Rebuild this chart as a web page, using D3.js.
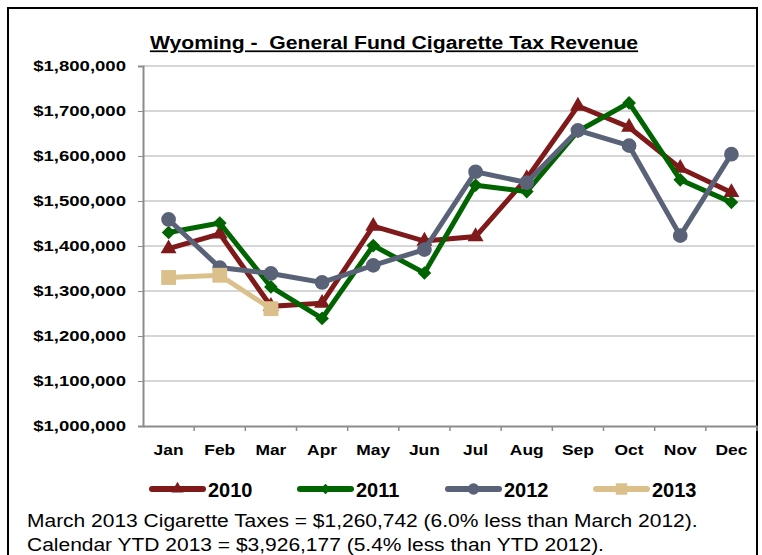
<!DOCTYPE html>
<html>
<head>
<meta charset="utf-8">
<script src="https://cdn.jsdelivr.net/npm/d3@7"></script>
<style>
  body { margin: 0; background: #fff; }
  text { font-family: "Liberation Sans", Arial, sans-serif; }
</style>
</head>
<body>
<div id="chart"></div>
<script>
// data
const months = ["Jan", "Feb", "Mar", "Apr", "May", "Jun", "Jul", "Aug", "Sep", "Oct", "Nov", "Dec"];
const years = ["2010", "2011", "2012", "2013"];
const rev2010 = [1394000, 1427000, 1266000, 1273000, 1444000, 1411000, 1421000, 1550000, 1711000, 1664000, 1573000, 1519000];
const rev2011 = [1430000, 1451000, 1309000, 1239000, 1401000, 1340000, 1535000, 1521000, 1655000, 1718000, 1547000, 1497000];
const rev2012 = [1459000, 1352000, 1339000, 1319000, 1357000, 1392000, 1565000, 1541000, 1657000, 1623000, 1423000, 1604000];
const rev2013 = [1330000, 1335000, 1260742];
const yTicks = [1000000, 1100000, 1200000, 1300000, 1400000, 1500000, 1600000, 1700000, 1800000];
const colors = ["#801a1a", "#006400", "#5a6278", "#dcc08c"];
const symbols = [d3.symbolTriangle, d3.symbolDiamond2, d3.symbolCircle, d3.symbolSquare];
const symSizes = [110, 120, 170, 220];

main();

// the reference text is wider than the font, so stretch it sideways around its own x
function stretch(sel, sx) {
  sel.attr("transform", function() {
    const x0 = +this.getAttribute("x") || 0;
    return `translate(${x0 * (1 - sx)},0) scale(${sx},1)`;
  });
}

function main() {
  const width = 762, height = 555;
  const margin = {top: 66, right: 5, bottom: 128, left: 143};

  const svg = d3.select("#chart").append("svg")
    .attr("width", width)
    .attr("height", height);

  // outer frame
  svg.append("rect")
    .attr("x", 8).attr("y", 8)
    .attr("width", 749).attr("height", 580)
    .attr("fill", "none").attr("stroke", "#000").attr("stroke-width", 2);

  const x = d3.scaleBand().domain(months).range([margin.left, width - margin.right]);
  const y = d3.scaleLinear().domain([1000000, 1800000]).range([height - margin.bottom - 1, margin.top]);

  // title
  svg.append("text")
    .attr("x", 394).attr("y", 49.5)
    .attr("text-anchor", "middle")
    .attr("font-size", 17.5).attr("font-weight", "bold")
    .attr("text-decoration", "underline")
    .style("white-space", "pre")
    .text("Wyoming -  General Fund Cigarette Tax Revenue")
    .call(stretch, 1.21);

  // gridlines
  svg.append("g")
    .selectAll("line")
    .data(yTicks.slice(1))
    .join("line")
      .attr("x1", margin.left).attr("x2", width - margin.right - 2)
      .attr("y1", d => y(d)).attr("y2", d => y(d))
      .attr("stroke", "#c8c8c8").attr("stroke-width", 1.5);

  // y axis
  svg.append("g")
    .attr("transform", `translate(${margin.left},0)`)
    .call(d3.axisLeft(y).tickValues(yTicks).tickSize(5).tickPadding(12)
      .tickFormat(d => "$" + d3.format(",")(d)))
    .call(g => g.select(".domain").attr("stroke", "#8c8c8c").attr("stroke-width", 2))
    .call(g => g.selectAll(".tick line").attr("stroke", "#8c8c8c"))
    .call(g => g.selectAll("text").attr("font-size", 14.5).attr("font-weight", "bold").attr("fill", "#000")
      .call(stretch, 1.28));

  // x axis
  const xb = y(1000000);
  svg.append("g")
    .attr("transform", `translate(0,${xb})`)
    .call(d3.axisBottom(x).tickSize(0).tickPadding(18))
    .call(g => g.select(".domain").attr("stroke", "#8c8c8c").attr("stroke-width", 2))
    .call(g => g.selectAll("text").attr("font-size", 15).attr("font-weight", "bold").attr("fill", "#000")
      .call(stretch, 1.16));
  svg.append("g")
    .selectAll("line")
    .data(months)
    .join("line")
      .attr("x1", d => x(d) + x.bandwidth()).attr("x2", d => x(d) + x.bandwidth())
      .attr("y1", xb).attr("y2", xb + 5)
      .attr("stroke", "#8c8c8c").attr("stroke-width", 1.5);

  // series
  const series = [rev2010, rev2011, rev2012, rev2013];
  const line = d3.line()
    .x((d, i) => x(months[i]) + x.bandwidth() / 2)
    .y(d => y(d));

  series.forEach((vals, s) => {
    const g = svg.append("g");
    g.append("path")
      .attr("d", line(vals))
      .attr("fill", "none")
      .attr("stroke", colors[s])
      .attr("stroke-width", 5)
      .attr("stroke-linejoin", "miter");
    g.selectAll("path.pt")
      .data(vals)
      .join("path")
        .attr("class", "pt")
        .attr("transform", (d, i) => `translate(${x(months[i]) + x.bandwidth() / 2},${y(d)})`)
        .attr("d", d3.symbol(symbols[s], symSizes[s]))
        .attr("fill", colors[s]);
  });

  // legend
  const legX = [149, 297, 445, 593];
  const legY = 489;
  const lg = svg.append("g");
  years.forEach((yr, s) => {
    lg.append("line")
      .attr("x1", legX[s] + 3).attr("x2", legX[s] + 54)
      .attr("y1", legY).attr("y2", legY)
      .attr("stroke", colors[s]).attr("stroke-width", 6).attr("stroke-linecap", "round");
    lg.append("path")
      .attr("transform", `translate(${legX[s] + 28.5},${legY})`)
      .attr("d", d3.symbol(symbols[s], symSizes[s] * 0.6))
      .attr("fill", colors[s]);
    lg.append("text")
      .attr("x", legX[s] + 59).attr("y", legY + 8)
      .attr("font-size", 20).attr("font-weight", "bold")
      .text(yr);
  });

  // notes
  const notes = [
    "March 2013 Cigarette Taxes = $1,260,742 (6.0% less than March 2012).",
    "Calendar YTD 2013 = $3,926,177 (5.4% less than YTD 2012)."
  ];
  svg.append("g")
    .selectAll("text")
    .data(notes)
    .join("text")
      .attr("x", 27).attr("y", (d, i) => 527 + i * 24.5)
      .attr("font-size", 18.5)
      .text(d => d)
      .call(stretch, 1.135);
}
</script>
</body>
</html>
